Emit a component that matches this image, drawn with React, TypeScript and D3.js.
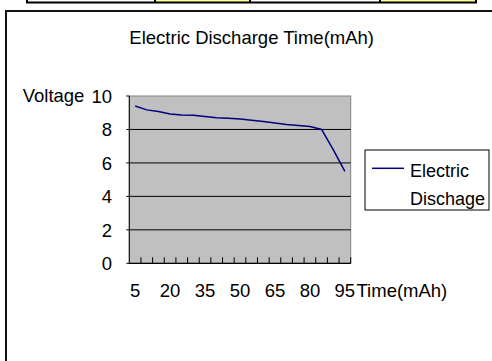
import React from "react";
import * as d3 from "d3";

const categories = [5, 10, 15, 20, 25, 30, 35, 40, 45, 50, 55, 60, 65, 70, 75, 80, 85, 90, 95];
const voltage = [9.4, 9.17, 9.07, 8.93, 8.87, 8.85, 8.77, 8.7, 8.67, 8.62, 8.55, 8.47, 8.39, 8.3, 8.24, 8.17, 8.0, 6.8, 5.5];
const yTicks = [0, 2, 4, 6, 8, 10];
const xLabels = [5, 20, 35, 50, 65, 80, 95];
const title = "Electric Discharge Time(mAh)";
const seriesName = ["Electric", "Dischage"];

const FONT = "'Liberation Sans', Arial, sans-serif";
const FS = 18.5;

export default function App() {
  const left = 129.3, right = 350.7, top = 96, bottom = 263.3;
  const x = d3.scaleBand<number>().domain(categories).range([left, right]).paddingInner(0).paddingOuter(0);
  const y = d3.scaleLinear().domain([0, 10]).range([bottom, top]);
  const cx = (c: number) => (x(c) as number) + x.bandwidth() / 2;
  const line = d3.line<number>().x((_, i) => cx(categories[i])).y((d) => y(d));

  return (
    <svg width={492} height={361} style={{ position: "absolute", left: 0, top: 0, background: "#fff" }} fontFamily={FONT}>
      {/* top table strip */}
      <rect x={27} y={-10} width={128} height={12.5} fill="#fff" />
      <rect x={155} y={-10} width={95} height={12.5} fill="#ffff99" />
      <rect x={250} y={-10} width={130} height={12.5} fill="#fff" />
      <rect x={380} y={-10} width={96} height={12.5} fill="#ffff99" />
      <rect x={27} y={-10} width={449} height={12.5} fill="none" stroke="#000" strokeWidth={2} />
      {[155, 250, 380].map((v) => (
        <line key={v} x1={v} x2={v} y1={-10} y2={2.5} stroke="#000" strokeWidth={2} />
      ))}
      {/* chart frame */}
      <path d="M6,370 L6,11 L500,11" fill="none" stroke="#111" strokeWidth={2} />

      <text x={251.7} y={44.3} fontSize={FS} textAnchor="middle">{title}</text>

      {/* plot area */}
      <rect x={left} y={top} width={right - left} height={bottom - top} fill="#c0c0c0" stroke="#808080" strokeWidth={1} />
      {yTicks.filter((t) => t > 0 && t < 10).map((t) => (
        <line key={t} x1={left - 3} x2={right} y1={y(t)} y2={y(t)} stroke="#000" strokeWidth={1} />
      ))}
      <line x1={left - 3} x2={left} y1={y(10)} y2={y(10)} stroke="#000" strokeWidth={1} />
      <line x1={left - 3} x2={left} y1={y(0)} y2={y(0)} stroke="#000" strokeWidth={1} />
      <line x1={left} x2={left} y1={top} y2={bottom} stroke="#000" strokeWidth={1} />
      <line x1={left} x2={right} y1={bottom} y2={bottom} stroke="#000" strokeWidth={1.2} />
      {categories.map((c, i) => {
        const bx = (x(c) as number) + x.bandwidth();
        return <line key={i} x1={bx} x2={bx} y1={bottom} y2={bottom - 6} stroke="#000" strokeWidth={1} />;
      })}

      <path d={line(voltage) || ""} fill="none" stroke="#000080" strokeWidth={1.5} />

      {yTicks.map((t) => (
        <text key={t} x={112} y={y(t) + 6.8} fontSize={FS} textAnchor="end">{t}</text>
      ))}
      {xLabels.map((c) => (
        <text key={c} x={cx(c)} y={296.5} fontSize={FS} textAnchor="middle">{c}</text>
      ))}
      <text x={22.7} y={101.7} fontSize={FS}>Voltage</text>
      <text x={356.5} y={296.5} fontSize={FS}>Time(mAh)</text>

      {/* legend */}
      <rect x={365} y={150} width={124} height={60} fill="#fff" stroke="#000" strokeWidth={1} />
      <line x1={372} x2={404} y1={168.3} y2={168.3} stroke="#000080" strokeWidth={1.5} />
      <text x={410} y={176.5} fontSize={18}>{seriesName[0]}</text>
      <text x={410} y={204.5} fontSize={18}>{seriesName[1]}</text>
    </svg>
  );
}
